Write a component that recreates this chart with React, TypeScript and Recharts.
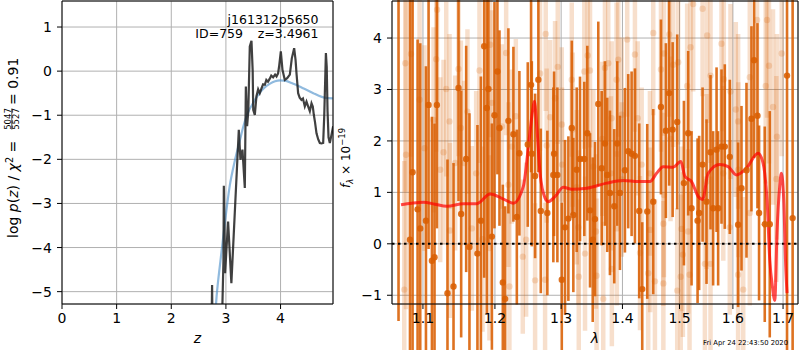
import React from 'react';
import { ComposedChart, Line, Scatter, XAxis, YAxis, CartesianGrid, ReferenceLine, ErrorBar } from 'recharts';

// ---------- left panel: log p(z) ----------
const pzZ = [2.73, 2.747, 2.76, 2.85, 2.93, 2.955, 2.962, 2.985, 3.04, 3.10, 3.236, 3.266, 3.303, 3.346, 3.365, 3.388, 3.41, 3.437, 3.468, 3.49, 3.50, 3.529, 3.559, 3.59, 3.62, 3.651, 3.68, 3.712, 3.74, 3.77, 3.803, 3.83, 3.864, 3.90, 3.926, 3.955, 3.974, 4.005, 4.035, 4.078, 4.121, 4.17, 4.206, 4.249, 4.275, 4.292, 4.322, 4.35, 4.383, 4.41, 4.444, 4.475, 4.50, 4.536, 4.567, 4.59, 4.609, 4.63, 4.658, 4.69, 4.719, 4.75, 4.78, 4.80, 4.817, 4.83, 4.845, 4.86, 4.878, 4.902, 4.933, 4.963];
const pzLog = [-6.5, -4.85, -6.5, -6.2, -5.6, -4.3, -2.6, -4.58, -3.41, -4.81, -1.33, -2.01, -1.78, -2.65, -0.35, -1.25, -0.9, 0.56, 0.69, 0.0, -0.88, -0.99, -0.57, -0.41, -0.50, -0.39, -0.30, -0.31, -0.20, -0.24, -0.17, -0.10, -0.14, -0.08, -0.12, -0.05, 0.11, 0.45, 0.03, -0.20, -0.16, -0.08, 0.29, 0.52, 0.25, -0.05, -0.50, -0.60, -0.65, -0.62, -0.80, -0.69, -0.78, -0.91, -0.73, -0.80, -0.99, -1.15, -1.41, -1.55, -1.63, -1.64, -1.63, -1.0, -0.2, 0.41, 0.1, -0.9, -1.50, -1.63, -1.44, -1.25];
const fitZ = [2.78, 2.83, 2.90, 2.98, 3.07, 3.16, 3.25, 3.32, 3.40, 3.50, 3.60, 3.70, 3.80, 3.90, 4.00, 4.10, 4.20, 4.30, 4.40, 4.50, 4.60, 4.70, 4.80, 4.96];
const fitLog = [-5.9, -5.1, -4.3, -3.45, -2.6, -2.05, -1.6, -1.25, -0.95, -0.72, -0.52, -0.38, -0.29, -0.23, -0.21, -0.22, -0.27, -0.32, -0.38, -0.44, -0.50, -0.56, -0.60, -0.62];
const zTicks = [0, 1, 2, 3, 4];
const logTicks = [-5, -4, -3, -2, -1, 0, 1];

// ---------- right panel: spectrum ----------
const darkLam = [1.0680, 1.0829, 1.0863, 1.0929, 1.0964, 1.1040, 1.1075, 1.1120, 1.1155, 1.1187, 1.1331, 1.1414, 1.1483, 1.1520, 1.1590, 1.1636, 1.1749, 1.1798, 1.1845, 1.1883, 1.1906, 1.1956, 1.1993, 1.2036, 1.2066, 1.2115, 1.2149, 1.2197, 1.2271, 1.2322, 1.2360, 1.2486,
  1.2536, 1.2547, 1.2597, 1.2647, 1.2684, 1.2785, 1.2878, 1.2889, 1.2941, 1.3010, 1.3061, 1.3114, 1.3168, 1.3193, 1.3247, 1.3300, 1.3369, 1.3418, 1.3462, 1.3506, 1.3543, 1.3597, 1.3653, 1.3707, 1.3745, 1.3790, 1.3862, 1.3912, 1.3958, 1.4042, 1.4098, 1.4156, 1.4213, 1.4287, 1.4339, 1.4426, 1.4531, 1.4667,
  1.4755, 1.4814, 1.4876, 1.4958, 1.5080, 1.5158, 1.5220, 1.5331, 1.5360, 1.5424, 1.5498, 1.5573, 1.5622, 1.5687, 1.5717, 1.5781, 1.5844, 1.5940, 1.6101, 1.6167, 1.6265, 1.6363, 1.6415, 1.6482, 1.6514, 1.6628, 1.6729, 1.7082, 1.7198];
const darkFlux = [5.5, 0.08, 1.39, 0.67, 0.30, 0.45, 2.70, -0.33, -0.26, 2.70, -0.96, -0.83, 3.03, 0.58, 1.65, -0.06, -0.19, 0.45, 3.84, 2.64, 3.01, 0.14, 2.50, 3.35, 2.25, -0.75, -1.07, 2.39, 2.13, 0.52, 1.76, 1.93,
  3.09, 1.75, 1.32, 3.19, 0.64, 0.60, 1.34, 1.75, 1.34, -0.70, 0.32, 0.49, 2.25, 0.56, 1.44, 1.65, 1.65, 2.15, 0.65, 0.08, 0.48, 2.72, 1.47, 1.95, 1.34, 0.99, 0.73, 1.95, 0.99, 1.43, 1.80, 1.75, 1.71, 0.64, -0.88, 0.63, 0.82, 2.66,
  2.20, 2.93, 2.22, 2.37, 1.18, 2.15, 0.69, 0.45, 0.60, 1.54, 0.82, 1.78, 0.69, 1.83, 0.69, 1.89, 1.89, 1.69, 0.37, 1.08, 1.43, 2.43, 3.57, 2.49, 0.60, 0.38, 0.38, 3.27, 0.5];
const darkErr = [7.0, 5.0, 5.0, 3.3, 3.6, 3.0, 2.8, 2.8, 2.6, 2.4, 2.6, 2.4, 2.2, 2.4, 2.2, 2.6, 2.5, 2.8, 4.5, 4.0, 3.0, 2.2, 2.2, 2.0, 1.9, 1.9, 1.8, 1.8, 1.7, 1.7, 1.6, 1.6,
  1.7, 1.8, 1.6, 1.8, 1.6, 1.6, 1.7, 1.6, 1.7, 1.5, 1.7, 1.6, 1.7, 1.5, 1.6, 1.6, 1.5, 1.7, 1.5, 1.6, 1.5, 1.6, 1.5, 1.6, 1.5, 1.6, 1.5, 1.6, 1.5, 1.6, 1.5, 1.6, 1.7, 1.7, 1.3, 1.7, 1.8, 1.7,
  1.7, 1.8, 1.7, 1.7, 1.6, 1.6, 1.5, 1.6, 1.5, 1.5, 1.6, 1.5, 1.5, 1.6, 1.5, 1.5, 1.6, 1.5, 1.6, 1.6, 1.7, 1.8, 1.9, 1.8, 1.7, 1.9, 2.2, 6.0, 6.0];

const lightLam = [1.0754, 1.0777, 1.0768, 1.0842, 1.0955, 1.1021, 1.1142, 1.1178, 1.1190, 1.1232, 1.1277, 1.1314, 1.1359, 1.1365, 1.1437, 1.1483, 1.1516, 1.1562, 1.1608, 1.1670, 1.1731, 1.1778, 1.1821, 1.1921, 1.1956, 1.1931, 1.2101, 1.2164, 1.2197, 1.2212, 1.2247, 1.2307, 1.2411, 1.2461,
  1.2760, 1.2673, 1.2947, 1.3168, 1.3369, 1.3424, 1.3462, 1.3707, 1.3762, 1.3929, 1.3901, 1.4081, 1.4213, 1.4531, 1.4667, 1.2905, 1.2827, 1.2775, 1.3010, 1.3183, 1.3663, 1.3819, 1.3987, 1.4260, 1.3015, 1.3247, 1.3516, 1.3807, 1.3990, 1.4329, 1.4473, 1.3273, 1.3559, 1.3905, 1.4478, 1.3381, 1.3822, 1.4300, 1.2597, 1.2750, 1.3280, 1.3569, 1.3679, 1.4443, 1.4561,
  1.5250, 1.5424, 1.4814, 1.5510, 1.5202, 1.5781, 1.4720, 1.4886, 1.4976, 1.5573, 1.5825, 1.5139, 1.5953, 1.6474, 1.6674, 1.6973, 1.6713, 1.6647, 1.6330, 1.6795, 1.6876, 1.6056, 1.4838, 1.6101, 1.6105, 1.6863, 1.4720, 1.5498, 1.5815, 1.6330, 1.4710, 1.5037, 1.5158, 1.5940, 1.5022, 1.5061, 1.5467, 1.5573, 1.5183, 1.6101, 1.4710, 1.4958, 1.6201];
const lightFlux = [-0.89, 1.73, 3.51, 3.69, 2.80, 1.86, 2.41, 3.59, 4.55, 1.44, 1.78, 3.01, 2.38, 0.26, 1.57, 3.40, 2.25, 1.57, 2.57, 0.30, 1.37, 3.37, 0.09, -0.08, 2.74, 3.87, 2.28, 3.71, 1.15, -0.83, 1.89, 2.48, -0.25, 0.08,
  4.08, 3.31, 3.44, 3.19, 3.35, 3.66, 3.37, 3.42, 3.51, 3.58, 3.19, 3.97, 3.68, 4.10, 3.39, 2.83, 2.46, 1.91, 2.32, 2.22, 2.04, 2.44, 2.51, 2.44, 1.54, 1.10, 1.50, 1.37, 1.25, 1.54, 1.37, 0.32, 0.24, 0.30, 0.27, -0.19, -0.49, -0.18, -0.71, -0.70, -0.64, -0.62, -1.07, -0.57, -0.73,
  4.66, 4.57, 4.07, 4.05, 3.82, 3.89, 3.70, 3.48, 3.53, 3.27, 3.20, 3.07, 2.96, 4.35, 4.35, 3.70, 3.46, 3.07, 3.24, 2.66, 2.08, 2.61, 2.04, 2.38, 1.44, 1.26, 0.95, 1.21, 1.37, 0.60, 0.39, 0.29, 0.24, 0.32, -0.64, -0.21, -0.39, -0.39, -0.60, -0.60, -0.77, -0.91, -0.89];
const lightErr = [2.5, 3.0, 2.5, 2.0, 2.0, 2.0, 1.8, 1.8, 1.8, 1.8, 1.8, 1.7, 1.7, 1.7, 1.7, 1.7, 1.7, 1.6, 1.6, 1.6, 1.6, 1.8, 1.8, 1.8, 1.8, 1.8, 1.6, 1.6, 1.6, 1.6, 1.5, 1.5, 1.5, 1.5,
  1.5, 1.5, 1.5, 1.5, 1.5, 1.5, 1.5, 1.5, 1.5, 1.5, 1.5, 1.5, 1.5, 1.6, 1.6, 1.5, 1.5, 1.5, 1.5, 1.5, 1.5, 1.5, 1.5, 1.5, 1.5, 1.5, 1.5, 1.5, 1.5, 1.5, 1.6, 1.5, 1.5, 1.5, 1.6, 1.5, 1.5, 1.5, 1.5, 1.5, 1.5, 1.5, 1.5, 1.6, 1.6,
  1.7, 1.7, 1.6, 1.7, 1.7, 1.7, 1.6, 1.6, 1.6, 1.7, 1.7, 1.6, 1.7, 1.9, 1.9, 2.0, 1.9, 1.9, 1.8, 1.9, 2.0, 1.7, 1.6, 1.7, 1.7, 2.0, 1.6, 1.7, 1.7, 1.8, 1.6, 1.6, 1.6, 1.7, 1.6, 1.6, 1.7, 1.7, 1.6, 1.7, 1.6, 1.6, 1.8];

const modelLam = [1.0712, 1.0850, 1.1008, 1.1160, 1.1323, 1.1553, 1.1741, 1.1931, 1.2124, 1.2271, 1.2420, 1.2506, 1.2562, 1.2586, 1.2623, 1.2673, 1.2750, 1.2801, 1.2905, 1.3035, 1.3168, 1.3408, 1.3736, 1.4014, 1.4270, 1.4473, 1.4590, 1.4707, 1.4886, 1.5025, 1.5098, 1.5220, 1.5342, 1.5424, 1.5528, 1.5749, 1.5907, 1.6069, 1.6265, 1.6494, 1.6594, 1.6628, 1.6674, 1.6729, 1.6783, 1.6831, 1.6876, 1.6932, 1.6966, 1.7014, 1.7055, 1.7082];
const modelFlux = [0.76, 0.79, 0.81, 0.77, 0.73, 0.78, 0.78, 0.97, 0.87, 0.79, 1.12, 2.02, 2.61, 2.77, 2.28, 1.37, 0.89, 0.82, 0.92, 1.10, 1.06, 1.08, 1.18, 1.23, 1.21, 1.21, 1.37, 1.50, 1.49, 1.60, 1.31, 1.21, 0.92, 0.86, 1.37, 1.54, 1.50, 1.34, 1.47, 1.76, 1.57, 1.37, 0.86, -0.31, -0.83, -1.1, 0.21, 1.12, 1.37, 0.86, -0.44, -0.96];
const lamTicks = [1.1, 1.2, 1.3, 1.4, 1.5, 1.6, 1.7];
const fluxTicks = [-1, 0, 1, 2, 3, 4];

const pzData = pzZ.map((x, i) => ({ x, y: pzLog[i] }));
const fitData = fitZ.map((x, i) => ({ x, y: fitLog[i] }));
const darkData = darkLam.map((x, i) => ({ x, y: darkFlux[i], e: darkErr[i] }));
const lightData = lightLam.map((x, i) => ({ x, y: lightFlux[i], e: lightErr[i] }));
const modelData = modelLam.map((x, i) => ({ x, y: modelFlux[i] }));

const FONT = 'DejaVu Sans';
const tickStyle = { fill: '#000', fontSize: 14, fontFamily: FONT };
const minus = (v: number) => String(v).replace('-', '\u2212');
const DARK = 'rgba(217,95,2,0.88)';
const LIGHT = 'rgba(217,95,2,0.2)';

const darkDot = (p: any) => <circle cx={p.cx} cy={p.cy} r={3.2} fill={DARK} />;
const lightDot = (p: any) => <circle cx={p.cx} cy={p.cy} r={3.2} fill={LIGHT} />;

export default function App() {
  return (
    <div style={{ position: 'absolute', left: 0, top: 0, width: 800, height: 350, background: '#fff', fontFamily: FONT }}>
      <div style={{ position: 'absolute', left: 0, top: 0 }}>
        <ComposedChart width={340} height={350} margin={{ top: 1, right: 7, bottom: 0, left: 0 }}>
          <CartesianGrid stroke="#b0b0b0" strokeWidth={1} />
          <XAxis dataKey="x" type="number" domain={[0, 4.96]} allowDataOverflow ticks={zTicks} interval={0}
            height={46} tick={tickStyle} tickSize={5} tickMargin={4} stroke="#000" tickLine={{ stroke: '#000' }} />
          <YAxis dataKey="y" type="number" domain={[-5.28, 1.59]} allowDataOverflow ticks={logTicks} interval={0}
            width={62} tick={tickStyle} tickSize={5} tickMargin={5} tickFormatter={minus} stroke="#000" tickLine={{ stroke: '#000' }} />
          <Line data={fitData} dataKey="y" type="monotone" stroke="rgba(70,140,200,0.6)" strokeWidth={2.2} dot={false} isAnimationActive={false} />
          <Line data={pzData} dataKey="y" type="linear" stroke="rgba(30,30,30,0.85)" strokeWidth={2.2} dot={false} isAnimationActive={false} />
          <ReferenceLine x={4.96} stroke="#000" strokeWidth={1} />
          <ReferenceLine y={1.59} stroke="#000" strokeWidth={1} />
        </ComposedChart>
      </div>
      <div style={{ position: 'absolute', left: 340, top: 0 }}>
        <ComposedChart width={460} height={350} margin={{ top: 1, right: 2, bottom: 0, left: 0 }}>
          <CartesianGrid stroke="#b0b0b0" strokeWidth={1} />
          <XAxis dataKey="x" type="number" scale="log" domain={[1.0596, 1.731]} allowDataOverflow ticks={lamTicks} interval={0}
            height={46} tick={tickStyle} tickSize={5} tickMargin={4} tickFormatter={(v: number) => v.toFixed(1)} stroke="#000" tickLine={{ stroke: '#000' }} />
          <YAxis dataKey="y" type="number" domain={[-1.17, 4.72]} allowDataOverflow ticks={fluxTicks} interval={0}
            width={52} tick={tickStyle} tickSize={5} tickMargin={5} tickFormatter={minus} stroke="#000" tickLine={{ stroke: '#000' }} />
          <Scatter data={lightData} shape={lightDot} isAnimationActive={false}>
            <ErrorBar dataKey="e" direction="y" width={0} stroke={LIGHT} strokeWidth={4.5} />
          </Scatter>
          <Scatter data={darkData} shape={darkDot} isAnimationActive={false}>
            <ErrorBar dataKey="e" direction="y" width={0} stroke={DARK} strokeWidth={2.6} />
          </Scatter>
          <ReferenceLine y={0} stroke="#000" strokeWidth={2} strokeDasharray="2.5 3.5" />
          <Line data={modelData} dataKey="y" type="monotone" stroke="rgba(255,0,0,0.7)" strokeWidth={3} dot={false} isAnimationActive={false} />
          <ReferenceLine x={1.731} stroke="#000" strokeWidth={1} />
          <ReferenceLine y={4.72} stroke="#000" strokeWidth={1} />
        </ComposedChart>
      </div>
      <svg width={800} height={350} style={{ position: 'absolute', left: 0, top: 0, pointerEvents: 'none' }} fontFamily={FONT}>
        <text x={318.5} y={24} textAnchor="end" fontSize={12.5}>j161312p5650</text>
        <text x={243} y={38} textAnchor="end" fontSize={12.5}>ID=759</text>
        <text x={318.5} y={38} textAnchor="end" fontSize={12.5}>z=3.4961</text>
        <text x={197.5} y={343} textAnchor="middle" fontSize={14} fontStyle="italic">z</text>
        <text x={595} y={343} textAnchor="middle" fontSize={14} fontStyle="italic">λ</text>
        <text x={788} y={344.5} textAnchor="end" fontSize={6.8}>Fri Apr 24 22:43:50 2020</text>
        <g transform="translate(18,238) rotate(-90)">
          <text x={0} y={0} fontSize={14}>log <tspan fontStyle="italic">p</tspan>(<tspan fontStyle="italic">z</tspan>) / <tspan fontStyle="italic">χ</tspan><tspan fontSize={9.8} dy={-5.5}>2</tspan><tspan dy={5.5}> =</tspan></text>
          <text x={119} y={-7.5} fontSize={8.5} textAnchor="middle">5047</text>
          <line x1={108.5} x2={129.5} y1={-6.2} y2={-6.2} stroke="#000" strokeWidth={0.7} />
          <text x={119} y={0.5} fontSize={8.5} textAnchor="middle">5527</text>
          <text x={133} y={0} fontSize={14}>= 0.91</text>
        </g>
        <g transform="translate(350,188) rotate(-90)">
          <text x={0} y={0} fontSize={12}><tspan fontStyle="italic">f</tspan><tspan fontSize={8.5} fontStyle="italic" dy={3}>λ</tspan><tspan dy={-3}> × 10</tspan><tspan fontSize={8.5} dy={-5}>−19</tspan></text>
        </g>
      </svg>
    </div>
  );
}
